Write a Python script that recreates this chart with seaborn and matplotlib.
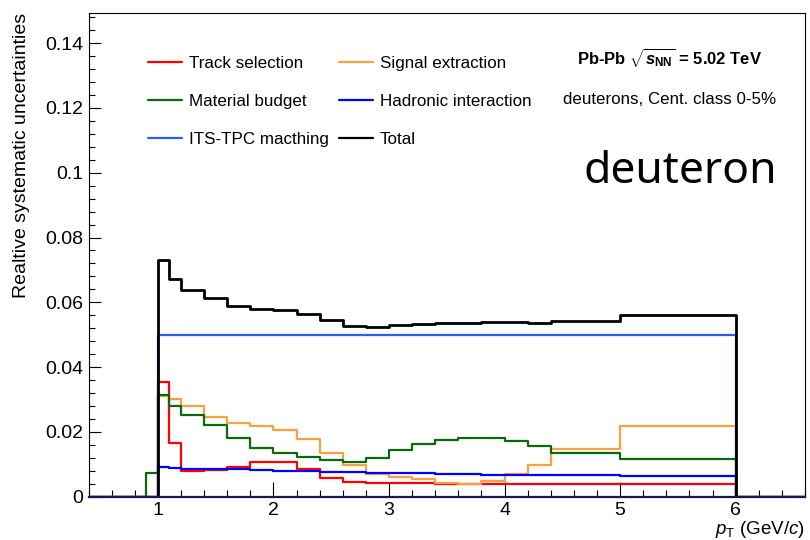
import numpy as np
import pandas as pd
import matplotlib
matplotlib.use("Agg")
import matplotlib.pyplot as plt
import seaborn as sns

# pT bin edges (GeV/c) of the systematic-uncertainty histograms
bin_edges = [1.0, 1.1, 1.2, 1.4, 1.6, 1.8, 2.0, 2.2, 2.4, 2.6, 2.8, 3.0,
             3.2, 3.4, 3.6, 3.8, 4.0, 4.2, 4.4, 5.0, 6.0]

track_selection = [0.0353, 0.0166, 0.0080, 0.0082, 0.0092, 0.0108, 0.0108,
                   0.0084, 0.0058, 0.0045, 0.0042, 0.0042, 0.0041, 0.0038,
                   0.0038, 0.0038, 0.0038, 0.0038, 0.0039, 0.0039]
signal_extraction = [0.0312, 0.0301, 0.0281, 0.0247, 0.0228, 0.0219, 0.0206,
                     0.0177, 0.0134, 0.0097, 0.0070, 0.0062, 0.0055, 0.0043,
                     0.0039, 0.0049, 0.0071, 0.0099, 0.0147, 0.0218]
material_budget = [0.0315, 0.0280, 0.0252, 0.0221, 0.0181, 0.0149, 0.0136,
                   0.0123, 0.0112, 0.0107, 0.0120, 0.0143, 0.0163, 0.0174,
                   0.0180, 0.0180, 0.0173, 0.0158, 0.0135, 0.0116]
material_budget_low = 0.0074  # 0.9-1.0 GeV/c bin
hadronic_interaction = [0.0091, 0.0088, 0.0086, 0.0085, 0.0084, 0.0082, 0.0080,
                        0.0078, 0.0076, 0.0075, 0.0074, 0.0073, 0.0072, 0.0070,
                        0.0069, 0.0068, 0.0068, 0.0066, 0.0066, 0.0063]
its_tpc_matching = [0.050] * 20
total = [0.0730, 0.0672, 0.0639, 0.0613, 0.0590, 0.0579, 0.0576, 0.0565,
         0.0544, 0.0528, 0.0524, 0.0530, 0.0533, 0.0536, 0.0537, 0.0539,
         0.0539, 0.0537, 0.0541, 0.0561]

x_min, x_max = 0.4, 6.6

labels = ["Track selection", "Signal extraction", "Material budget",
          "Hadronic interaction", "ITS-TPC macthing", "Total"]
colors = {"Track selection": "#ff0000",
          "Signal extraction": "#ffa040",
          "Material budget": "#0a6a0a",
          "Hadronic interaction": "#0000ff",
          "ITS-TPC macthing": "#2a5cff",
          "Total": "#000000"}
widths = {"Track selection": 1.6, "Signal extraction": 1.6,
          "Material budget": 1.6, "Hadronic interaction": 1.6,
          "ITS-TPC macthing": 1.6, "Total": 2.0}


def step_points(values, low_bin=0.0):
    """Histogram contents padded with empty bins out to the axis range."""
    xs = [x_min, 0.9] + bin_edges + [x_max]
    ys = [0.0, low_bin] + list(values) + [0.0, 0.0]
    return xs, ys


series = {"Track selection": step_points(track_selection),
          "Signal extraction": step_points(signal_extraction),
          "Material budget": step_points(material_budget, material_budget_low),
          "Hadronic interaction": step_points(hadronic_interaction),
          "ITS-TPC macthing": step_points(its_tpc_matching),
          "Total": step_points(total)}

rows = []
for name in labels:
    xs, ys = series[name]
    for x, y in zip(xs, ys):
        rows.append({"pt": x, "unc": y, "source": name})
df = pd.DataFrame(rows)

sns.set_theme(style="white")
plt.rcParams["font.family"] = ["Liberation Sans", "DejaVu Sans"]
plt.rcParams["text.color"] = "black"
plt.rcParams["axes.labelcolor"] = "black"
plt.rcParams["mathtext.fontset"] = "custom"
plt.rcParams["mathtext.rm"] = "Liberation Sans"
plt.rcParams["mathtext.it"] = "Liberation Sans:italic"
plt.rcParams["mathtext.bf"] = "Liberation Sans:bold"
plt.rcParams["mathtext.bfit"] = "Liberation Sans:bold:italic"

fig = plt.figure(figsize=(8.1, 5.4), dpi=100)
ax = fig.add_axes([0.1093, 0.0802, 0.8845, 0.8963])

for name in labels:
    sub = df[df["source"] == name]
    sns.lineplot(data=sub, x="pt", y="unc", ax=ax, color=colors[name],
                 lw=widths[name], drawstyle="steps-post", estimator=None,
                 sort=False, label=name, legend=False)

ax.set_xlim(x_min, x_max)
ax.set_ylim(0, 0.1494)

ax.set_xticks([1, 2, 3, 4, 5, 6])
ax.set_xticks(np.arange(0.4, 6.61, 0.2), minor=True)
ax.set_yticks([0, 0.02, 0.04, 0.06, 0.08, 0.1, 0.12, 0.14])
ax.set_yticklabels(["0", "0.02", "0.04", "0.06", "0.08", "0.1", "0.12", "0.14"])
ax.set_yticks(np.arange(0, 0.1494, 0.004), minor=True)
ax.tick_params(axis="both", which="both", direction="in", colors="black",
               labelsize=14, bottom=True, left=True, top=False, right=False)
ax.tick_params(axis="x", which="major", length=10.8, width=0.8, pad=4)
ax.tick_params(axis="x", which="minor", length=5.4, width=0.8)
ax.tick_params(axis="y", which="major", length=8.6, width=0.8, pad=4)
ax.tick_params(axis="y", which="minor", length=4.3, width=0.8)
for sp in ax.spines.values():
    sp.set_color("black")
    sp.set_linewidth(0.8)
ax.spines["bottom"].set_color("#1a1a4a")
ax.spines["bottom"].set_linewidth(1.6)

ax.set_xlabel(r"$p_{\rm T}$ (GeV/$c$)", fontsize=13.5, loc="right", labelpad=0)
ax.set_ylabel("Realtive systematic uncertainties", fontsize=14, loc="top",
              labelpad=11)
ax.grid(False)

# legend: two columns, three rows
handles_by_name = {l.get_label(): l for l in ax.get_lines()}
order = ["Track selection", "Material budget", "ITS-TPC macthing",
         "Signal extraction", "Hadronic interaction", "Total"]
leg = ax.legend([handles_by_name[n] for n in order], order, ncol=2,
                loc="upper left", bbox_to_anchor=(0.073, 0.925),
                frameon=False, fontsize=12.25, handlelength=2.0,
                handletextpad=0.42, columnspacing=0.6, labelspacing=1.35,
                borderaxespad=0)
for h in leg.legend_handles:
    h.set_linewidth(1.6)

fig.text(670 / 810, 1 - 57 / 540,
         r"Pb-Pb $\sqrt{\mathbfit{s}_{\mathbf{NN}}}$ = 5.02 TeV",
         fontsize=12, fontweight="bold", ha="center", va="center")
fig.text(670 / 810, 1 - 99 / 540, "deuterons, Cent. class 0-5%",
         fontsize=12.2, ha="center", va="center")
fig.text(680 / 810, 1 - 172 / 540, "deuteron", family="Noto Sans",
         fontsize=32, ha="center", va="center")

fig.savefig("out.png", dpi=100, facecolor="white")
